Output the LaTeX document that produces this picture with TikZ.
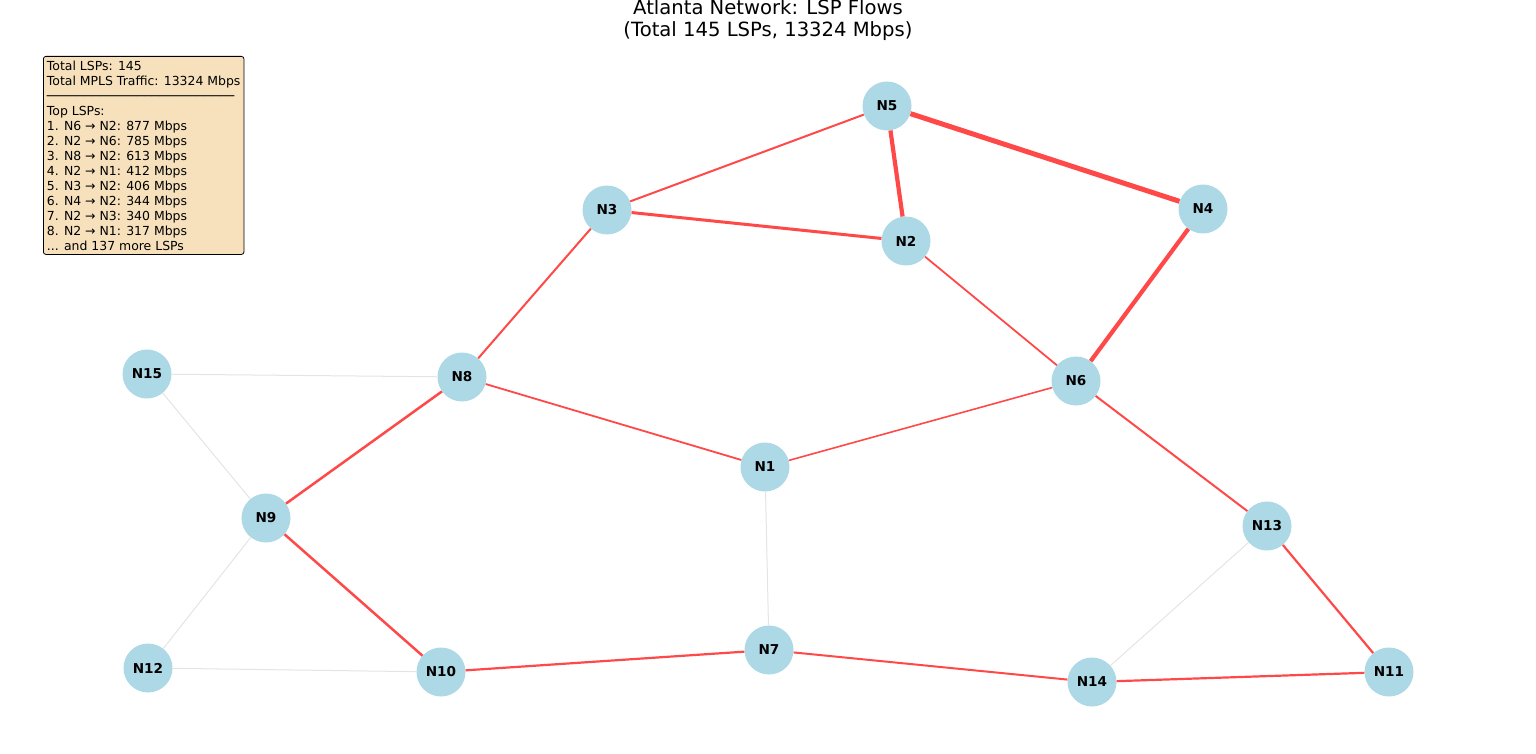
\documentclass[tikz,border=0pt]{standalone}
\usepackage{fontspec}
\setmainfont{DejaVu Sans}
\definecolor{nodeblue}{HTML}{ADD8E6}
\definecolor{flowred}{RGB}{255,72,72}
\definecolor{idlegray}{RGB}{228,228,228}
\definecolor{boxwheat}{HTML}{F7E1BD}
\begin{document}
\begin{tikzpicture}[x=1pt,y=-1pt,
  router/.style={circle,fill=nodeblue,minimum size=49pt,inner sep=0pt,font=\fontsize{13.6}{15}\selectfont\bfseries},
  flow/.style={draw=flowred,line width=#1},
  idle/.style={draw=idlegray,line width=1pt},
  legendbox/.style={draw=black,fill=boxwheat,rounded corners=2.5pt,line width=0.8pt,inner xsep=3.5pt,inner ysep=4.2pt,align=left,anchor=north west,font=\fontsize{12.45}{15}\selectfont},
  titletext/.style={align=center,font=\fontsize{19.6}{22}\selectfont}
]
\useasboundingbox (0,0) rectangle (1536,754);
\node[titletext] (title) at (768,20) {Atlanta Network: LSP Flows\\(Total 145 LSPs, 13324 Mbps)};

\node[router] (N5) at (887,106) {N5};
\node[router] (N3) at (607,210) {N3};
\node[router] (N2) at (906,241) {N2};
\node[router] (N4) at (1203,209) {N4};
\node[router] (N15) at (147,374) {N15};
\node[router] (N8) at (462,377) {N8};
\node[router] (N6) at (1076,381) {N6};
\node[router] (N1) at (765,467) {N1};
\node[router] (N9) at (266,518) {N9};
\node[router] (N13) at (1267,526) {N13};
\node[router] (N12) at (148,668) {N12};
\node[router] (N10) at (441,672) {N10};
\node[router] (N7) at (769,650) {N7};
\node[router] (N14) at (1092,682) {N14};
\node[router] (N11) at (1389,672) {N11};

\draw[idle] (N15) -- (N8);
\draw[idle] (N15) -- (N9);
\draw[idle] (N9) -- (N12);
\draw[idle] (N12) -- (N10);
\draw[idle] (N1) -- (N7);
\draw[idle] (N13) -- (N14);

\draw[flow=5pt] (N5) -- (N4);
\draw[flow=4.2pt] (N5) -- (N2);
\draw[flow=4.2pt] (N4) -- (N6);
\draw[flow=3pt] (N3) -- (N2);
\draw[flow=2.5pt] (N8) -- (N9);
\draw[flow=2.5pt] (N9) -- (N10);
\draw[flow=2pt] (N5) -- (N3);
\draw[flow=2pt] (N3) -- (N8);
\draw[flow=1.8pt] (N2) -- (N6);
\draw[flow=1.8pt] (N8) -- (N1);
\draw[flow=1.6pt] (N6) -- (N1);
\draw[flow=2pt] (N6) -- (N13);
\draw[flow=2.2pt] (N13) -- (N11);
\draw[flow=2.2pt] (N10) -- (N7);
\draw[flow=2pt] (N7) -- (N14);
\draw[flow=2.2pt] (N14) -- (N11);

\node[legendbox] (legend) at (43,56) {Total LSPs: 145\\
Total MPLS Traffic: 13324 Mbps\\
─────────────────────────\\
Top LSPs:\\
1. N6 → N2: 877 Mbps\\
2. N2 → N6: 785 Mbps\\
3. N8 → N2: 613 Mbps\\
4. N2 → N1: 412 Mbps\\
5. N3 → N2: 406 Mbps\\
6. N4 → N2: 344 Mbps\\
7. N2 → N3: 340 Mbps\\
8. N2 → N1: 317 Mbps\\
... and 137 more LSPs};
\end{tikzpicture}
\end{document}
